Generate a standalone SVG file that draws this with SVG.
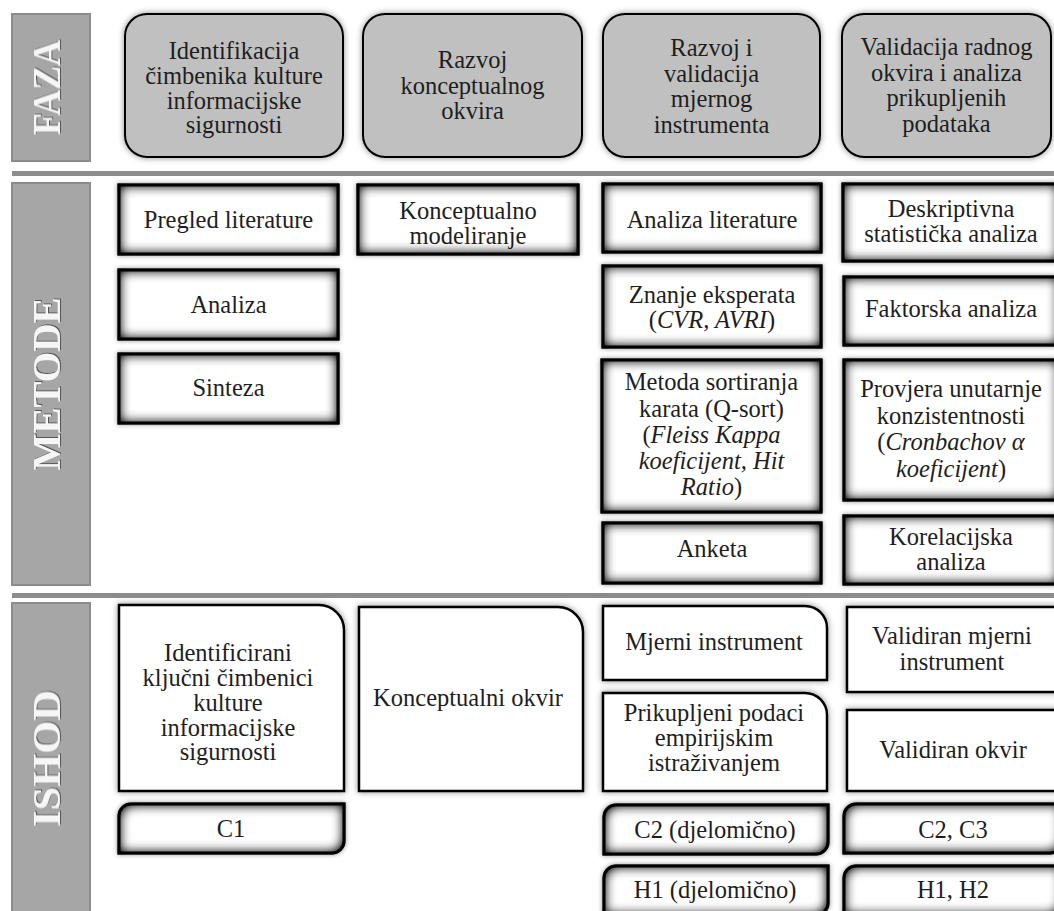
<svg xmlns="http://www.w3.org/2000/svg" width="1054" height="911" viewBox="0 0 1054 911">
<defs>
<style>
.t{font-family:"Liberation Serif","Times New Roman",serif;font-size:24.5px;fill:#1e1e1e;text-anchor:middle}
.i{font-style:italic}
.lbl{font-family:"Liberation Serif","Times New Roman",serif;font-size:40px;font-weight:bold;fill:#f6f6f6;text-anchor:middle}
.bar{fill:#a6a6a6;stroke:#8c8c8c;stroke-width:2}
.sep{fill:#8c8c8c}
.ph{fill:#c0c0c0;stroke:#000;stroke-width:2}
.m{fill:#fff;stroke:#000;stroke-width:3}
.o{fill:#fff;stroke:#000;stroke-width:2.5}
</style>
<filter id="inset" x="-20%" y="-40%" width="140%" height="180%" color-interpolation-filters="sRGB">
<feGaussianBlur in="SourceAlpha" stdDeviation="2.5" result="ob"/>
<feFlood flood-color="#000" flood-opacity="0.45"/>
<feComposite in2="ob" operator="in" result="outer"/>
<feMorphology in="SourceAlpha" operator="erode" radius="1.5" result="er"/>
<feFlood flood-color="#000" result="black"/>
<feComposite in="black" in2="er" operator="out" result="outside"/>
<feGaussianBlur in="outside" stdDeviation="6" result="blur"/>
<feComposite in="blur" in2="SourceAlpha" operator="in" result="inner"/>
<feComponentTransfer in="inner" result="innerA"><feFuncA type="linear" slope="1.2"/></feComponentTransfer>
<feMerge><feMergeNode in="outer"/><feMergeNode in="SourceGraphic"/><feMergeNode in="innerA"/></feMerge>
</filter>
<filter id="glow" x="-20%" y="-20%" width="140%" height="140%">
<feGaussianBlur in="SourceAlpha" stdDeviation="3" result="ob"/>
<feFlood flood-color="#000" flood-opacity="0.45"/>
<feComposite in2="ob" operator="in" result="outer"/>
<feMerge><feMergeNode in="outer"/><feMergeNode in="SourceGraphic"/></feMerge>
</filter>
<filter id="emb" x="-10%" y="-10%" width="120%" height="120%">
<feGaussianBlur in="SourceAlpha" stdDeviation="0.7" result="b"/>
<feOffset in="b" dx="1" dy="1" result="o"/>
<feFlood flood-color="#555"/>
<feComposite in2="o" operator="in" result="s"/>
<feMerge><feMergeNode in="s"/><feMergeNode in="SourceGraphic"/></feMerge>
</filter>
</defs>
<rect width="1054" height="911" fill="#fff"/>

<g id="labels">
<g id="label-faza"><rect class="bar" x="12" y="14" width="78" height="147"/>
<text class="lbl" filter="url(#emb)" transform="translate(60,87.5) rotate(-90)" textLength="95" lengthAdjust="spacingAndGlyphs">FAZA</text></g>
<g id="label-metode"><rect class="bar" x="12" y="183" width="78" height="402"/>
<text class="lbl" filter="url(#emb)" transform="translate(60,384) rotate(-90)" textLength="173" lengthAdjust="spacingAndGlyphs">METODE</text></g>
<g id="label-ishod"><rect class="bar" x="12" y="603" width="78" height="320"/>
<text class="lbl" filter="url(#emb)" transform="translate(60,758.5) rotate(-90)" textLength="137" lengthAdjust="spacingAndGlyphs">ISHOD</text></g>
<rect class="sep" x="12" y="171" width="1042" height="5"/>
<rect class="sep" x="12" y="593" width="1042" height="5"/>
</g>

<g id="connectors"></g>

<g id="phase1"><rect class="ph" filter="url(#glow)" x="125" y="14" width="218" height="143" rx="22"/>
<text class="t"><tspan x="234" y="59">Identifikacija</tspan><tspan x="234" y="84">čimbenika kulture</tspan><tspan x="234" y="108.5">informacijske</tspan><tspan x="234" y="133">sigurnosti</tspan></text></g>
<g id="phase2"><rect class="ph" filter="url(#glow)" x="363" y="14" width="219" height="143" rx="22"/>
<text class="t"><tspan x="472.5" y="68">Razvoj</tspan><tspan x="472.5" y="93.5">konceptualnog</tspan><tspan x="472.5" y="119">okvira</tspan></text></g>
<g id="phase3"><rect class="ph" filter="url(#glow)" x="603" y="14" width="217" height="143" rx="22"/>
<text class="t"><tspan x="711.5" y="56">Razvoj i</tspan><tspan x="711.5" y="81.5">validacija</tspan><tspan x="711.5" y="107">mjernog</tspan><tspan x="711.5" y="132.5">instrumenta</tspan></text></g>
<g id="phase4"><rect class="ph" filter="url(#glow)" x="842" y="14" width="209" height="143" rx="22"/>
<text class="t"><tspan x="946.5" y="55">Validacija radnog</tspan><tspan x="946.5" y="80.5">okvira i analiza</tspan><tspan x="946.5" y="106">prikupljenih</tspan><tspan x="946.5" y="131.5">podataka</tspan></text></g>

<g id="m-pregled"><rect class="m" filter="url(#inset)" x="119" y="185" width="219" height="69"/>
<text class="t" x="228.5" y="228">Pregled literature</text></g>
<g id="m-analiza"><rect class="m" filter="url(#inset)" x="119" y="270" width="219" height="69"/>
<text class="t" x="228.5" y="313">Analiza</text></g>
<g id="m-sinteza"><rect class="m" filter="url(#inset)" x="119" y="354" width="219" height="69"/>
<text class="t" x="228.5" y="396">Sinteza</text></g>
<g id="m-konceptualno"><rect class="m" filter="url(#inset)" x="358" y="185" width="220" height="69"/>
<text class="t"><tspan x="468" y="219">Konceptualno</tspan><tspan x="468" y="244">modeliranje</tspan></text></g>
<g id="m-analiza-lit"><rect class="m" filter="url(#inset)" x="603" y="184" width="218" height="68"/>
<text class="t" x="712" y="228">Analiza literature</text></g>
<g id="m-znanje"><rect class="m" filter="url(#inset)" x="603" y="266" width="218" height="81"/>
<text class="t"><tspan x="712" y="303">Znanje eksperata</tspan><tspan x="712" y="328">(<tspan class="i">CVR, AVRI</tspan>)</tspan></text></g>
<g id="m-qsort"><rect class="m" filter="url(#inset)" x="602" y="360" width="219" height="152"/>
<text class="t"><tspan x="711.5" y="390">Metoda sortiranja</tspan><tspan x="711.5" y="416.5">karata (Q-sort)</tspan><tspan x="711.5" y="443">(<tspan class="i">Fleiss Kappa</tspan></tspan><tspan class="i" x="711.5" y="469">koeficijent, Hit</tspan><tspan x="711.5" y="495"><tspan class="i">Ratio</tspan>)</tspan></text></g>
<g id="m-anketa"><rect class="m" filter="url(#inset)" x="603" y="523" width="218" height="60"/>
<text class="t" x="712" y="557">Anketa</text></g>
<g id="m-deskriptivna"><rect class="m" filter="url(#inset)" x="843" y="184" width="216" height="77"/>
<text class="t"><tspan x="951" y="217">Deskriptivna</tspan><tspan x="951" y="242">statistička analiza</tspan></text></g>
<g id="m-faktorska"><rect class="m" filter="url(#inset)" x="844" y="277" width="215" height="68"/>
<text class="t" x="951" y="317">Faktorska analiza</text></g>
<g id="m-provjera"><rect class="m" filter="url(#inset)" x="844" y="360" width="215" height="140"/>
<text class="t"><tspan x="951" y="397">Provjera unutarnje</tspan><tspan x="951" y="423.5">konzistentnosti</tspan><tspan x="951" y="450">(<tspan class="i">Cronbachov α</tspan></tspan><tspan x="951" y="476.5"><tspan class="i">koeficijent</tspan>)</tspan></text></g>
<g id="m-korelacijska"><rect class="m" filter="url(#inset)" x="844" y="516" width="215" height="68"/>
<text class="t"><tspan x="951" y="545">Korelacijska</tspan><tspan x="951" y="570">analiza</tspan></text></g>

<g id="o-identificirani"><path class="o" filter="url(#glow)" d="M119,605 H319 A25,25 0 0 1 344,630 V791 H119 Z"/>
<text class="t"><tspan x="228" y="661">Identificirani</tspan><tspan x="228" y="686">ključni čimbenici</tspan><tspan x="228" y="711">kulture</tspan><tspan x="228" y="735.5">informacijske</tspan><tspan x="228" y="760">sigurnosti</tspan></text></g>
<g id="o-c1"><path class="m" filter="url(#inset)" d="M119,816 A12,12 0 0 1 131,804 H344 V841 A12,12 0 0 1 332,853 H119 Z"/>
<text class="t" x="231" y="837">C1</text></g>
<g id="o-konceptualni"><path class="o" filter="url(#glow)" d="M359,607 H558 A25,25 0 0 1 583,632 V791 H359 Z"/>
<text class="t" x="468" y="706">Konceptualni okvir</text></g>
<g id="o-mjerni"><path class="o" filter="url(#glow)" d="M603,606 H805 A22,22 0 0 1 827,628 V680 H603 Z"/>
<text class="t" x="714" y="650">Mjerni instrument</text></g>
<g id="o-prikupljeni"><path class="o" filter="url(#glow)" d="M603,693 H805 A22,22 0 0 1 827,715 V791 H603 Z"/>
<text class="t"><tspan x="714" y="721">Prikupljeni podaci</tspan><tspan x="714" y="746">empirijskim</tspan><tspan x="714" y="771">istraživanjem</tspan></text></g>
<g id="o-c2"><path class="m" filter="url(#inset)" d="M604,817 A12,12 0 0 1 616,805 H828 V842 A12,12 0 0 1 816,854 H604 Z"/>
<text class="t" x="715" y="838">C2 (djelomično)</text></g>
<g id="o-h1"><path class="m" filter="url(#inset)" d="M604,878 A12,12 0 0 1 616,866 H828 V903 A12,12 0 0 1 816,915 H604 Z"/>
<text class="t" x="715" y="898">H1 (djelomično)</text></g>
<g id="o-validiran-mjerni"><rect class="o" filter="url(#glow)" x="847" y="607" width="215" height="85"/>
<text class="t"><tspan x="952" y="644">Validiran mjerni</tspan><tspan x="952" y="669.5">instrument</tspan></text></g>
<g id="o-validiran-okvir"><rect class="o" filter="url(#glow)" x="847" y="710" width="215" height="81"/>
<text class="t" x="953" y="758">Validiran okvir</text></g>
<g id="o-c2c3"><path class="m" filter="url(#inset)" d="M844,816 A12,12 0 0 1 856,804 H1062 V841 A12,12 0 0 1 1050,853 H844 Z"/>
<text class="t" x="953" y="838">C2, C3</text></g>
<g id="o-h1h2"><path class="m" filter="url(#inset)" d="M844,878 A12,12 0 0 1 856,866 H1062 V903 A12,12 0 0 1 1050,915 H844 Z"/>
<text class="t" x="953" y="898">H1, H2</text></g>
</svg>
